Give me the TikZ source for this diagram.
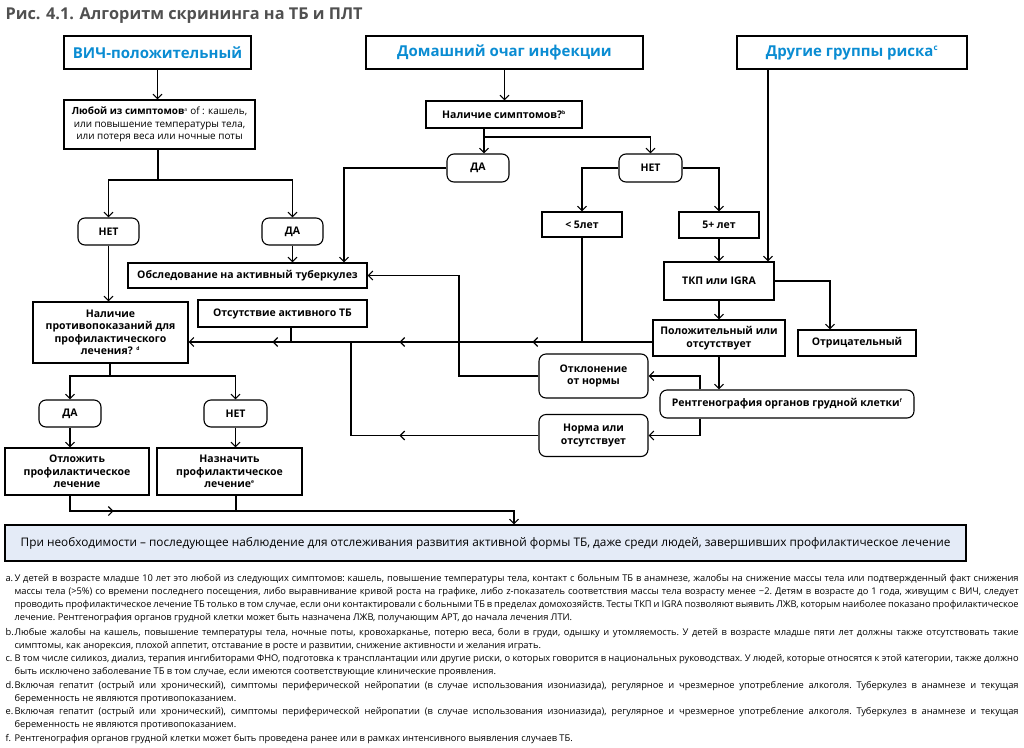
\documentclass[tikz,border=0pt]{standalone}
\usepackage{fontspec}
\setmainfont{Open Sans}
\usetikzlibrary{arrows.meta,decorations.markings}
\definecolor{hblue}{RGB}{10,140,210}
\definecolor{tgray}{RGB}{80,80,80}
\definecolor{bfill}{RGB}{228,235,247}
\newcommand\bxfont{\fontsize{10.5}{12.5}\selectfont\bfseries}
\newcommand\rgfont{\fontsize{9.9}{12.4}\selectfont}
\newcommand\hdfont{\fontsize{15}{18}\selectfont\bfseries}
\newcommand\fnfont{\fontsize{9.3}{13}\selectfont\frenchspacing}
\newcommand\sups[1]{\textsuperscript{\tiny #1}}
\begin{document}
\begin{tikzpicture}[x=1pt,y=-1pt,line width=1.1pt,
  box/.style={draw, line width=1.1pt, inner sep=1pt, align=center, font=\bxfont},
  rbox/.style={box, rounded corners=7pt},
  headbox/.style={draw, line width=1.3pt, inner sep=1pt, font=\hdfont, text=hblue},
  arr/.style={-{Straight Barb[length=4.5pt,width=9pt,line width=1.1pt]}},
  fn/.style={anchor=north west, inner sep=0pt, text width=1013pt, align=justify, font=\fnfont},
]
\useasboundingbox (0,0) rectangle (1024,747);

\node[anchor=base west, inner sep=0pt, text=tgray, font=\fontsize{16.3}{19}\selectfont\bfseries] (title) at (5,19) {Рис. 4.1. Алгоритм скрининга на ТБ и ПЛТ};

% header boxes
\node[headbox, minimum width=187pt, minimum height=33pt] (vich) at (157.5,52.5) {ВИЧ-положительный};
\node[headbox, minimum width=277pt, minimum height=33pt] (dom) at (504.5,52.5) {Домашний очаг инфекции};
\node[headbox, minimum width=230pt, minimum height=33pt] (drug) at (852,52.5) {Другие группы риска\textsuperscript{\footnotesize c}};

% boxes
\node[box, minimum width=191pt, minimum height=49pt, font=\rgfont] (lyub) at (159.5,124.5) {\textbf{Любой из симптомов}\sups{a} of : кашель,\\или повышение температуры тела,\\или потеря веса или ночные поты};
\node[box, minimum width=156pt, minimum height=27pt] (nal) at (504,114.5) {Наличие симптомов?\sups{b}};
\node[rbox, minimum width=62pt, minimum height=28pt] (damid) at (478,168) {ДА};
\node[rbox, minimum width=63pt, minimum height=28pt] (netmid) at (650.5,168) {НЕТ};
\node[box, minimum width=80pt, minimum height=25pt] (lt5) at (582,224.5) {< 5лет};
\node[box, minimum width=80pt, minimum height=26pt] (ge5) at (719,225) {5+ лет};
\node[rbox, minimum width=61pt, minimum height=27pt] (netl) at (108.5,231.5) {НЕТ};
\node[rbox, minimum width=61pt, minimum height=27pt] (dal) at (292.5,231.5) {ДА};
\node[box, minimum width=239pt, minimum height=25pt] (obsl) at (247.5,275.5) {Обследование на активный туберкулез};
\node[box, minimum width=169pt, minimum height=27pt] (ots) at (282.5,313.5) {Отсутствие активного ТБ};
\node[box, minimum width=155pt, minimum height=61pt] (nalp) at (110.5,332.5) {Наличие\\противопоказаний для\\профилактического\\лечения? \sups{d}};
\node[box, minimum width=110pt, minimum height=38pt] (tkp) at (719,281) {ТКП или IGRA};
\node[box, minimum width=132pt, minimum height=36pt] (pol) at (719,338) {Положительный или\\отсутствует};
\node[box, minimum width=118pt, minimum height=26pt] (otr) at (857,343) {Отрицательный};
\node[rbox, minimum width=109pt, minimum height=44pt] (otkl) at (593.5,376) {Отклонение\\от нормы};
\node[rbox, minimum width=254pt, minimum height=28pt] (rent) at (787,404) {Рентгенография органов грудной клетки\sups{f}};
\node[rbox, minimum width=109pt, minimum height=42pt] (norma) at (593.5,435.5) {Норма или\\отсутствует};
\node[rbox, minimum width=62pt, minimum height=27pt] (dalow) at (70,413.5) {ДА};
\node[rbox, minimum width=63pt, minimum height=27pt] (netlow) at (235.5,413.5) {НЕТ};
\node[box, minimum width=144pt, minimum height=47pt] (otl) at (77,471.5) {Отложить\\профилактическое\\лечение};
\node[box, minimum width=145pt, minimum height=47pt] (naz) at (229.5,471.5) {Назначить\\профилактическое\\лечение\sups{e}};
\node[draw, line width=1.1pt, fill=bfill, minimum width=961pt, minimum height=36pt, font=\fontsize{11.8}{14}\selectfont] (bot) at (485.5,543) {При необходимости – последующее наблюдение для отслеживания развития активной формы ТБ, даже среди людей, завершивших профилактическое лечение};

% coordinates
\coordinate (jL) at (158,180);
\coordinate (jM) at (484,137);
\coordinate (c344) at (344,0);
\coordinate (c768) at (768,0);
\coordinate (c830) at (830,0);
\coordinate (hl) at (0,342);
\coordinate (c291) at (291,0);
\coordinate (c351) at (351,0);
\coordinate (c459) at (459,0);
\coordinate (c700) at (700,0);
\coordinate (jB) at (110,376);
\coordinate (c70) at (70,0);
\coordinate (c236) at (236,0);
\coordinate (jE) at (514,511);

% connectors
\draw[arr] (vich.south) -- (vich.south |- lyub.north);
\draw (lyub.south -| jL) -- (jL);
\draw[arr] (jL) -| (netl.north);
\draw[arr] (jL) -| (dal.north);
\draw[arr] (dom.south) -- (dom.south |- nal.north);
\draw (jM |- nal.south) -- (jM);
\draw[arr] (jM) -- (jM |- damid.north);
\draw[arr] (jM) -| (netmid.north);
\draw[arr] (damid.west) -| (c344 |- obsl.north);
\draw[arr] (dal.south) -- (dal.south |- obsl.north);
\draw[arr] (netl.south) -- (netl.south |- nalp.north);
\draw[arr] (netmid.west) -| (lt5.north);
\draw[arr] (netmid.east) -| (ge5.north);
\draw[arr] (ge5.south) -- (ge5.south |- tkp.north);
\draw[arr] (c768 |- drug.south) -- (c768 |- tkp.north);
\draw[arr] (tkp.east) -| (c830 |- otr.north);
\draw[arr] (tkp.south) -- (pol.north);
\draw[arr, postaction={decorate}, decoration={markings,
  mark=at position 120pt with {\arrow{Straight Barb[length=4.5pt,width=9pt,line width=1.1pt]}},
  mark=at position 253pt with {\arrow{Straight Barb[length=4.5pt,width=9pt,line width=1.1pt]}},
  mark=at position 380pt with {\arrow{Straight Barb[length=4.5pt,width=9pt,line width=1.1pt]}}}]
  (pol.west |- hl) -- (nalp.east |- hl);
\draw (lt5.south) -- (lt5.south |- hl);
\draw (c291 |- ots.south) -- (c291 |- hl);
\draw[postaction={decorate}, decoration={markings,
  mark=at position 139pt with {\arrow{Straight Barb[length=4.5pt,width=9pt,line width=1.1pt]}}}]
  (norma.west) -- (c351 |- norma.west) -- (c351 |- hl);
\draw[arr] (otkl.west) -- (c459 |- otkl.west) -- (c459 |- obsl.east) -- (obsl.east);
\draw[arr] (pol.south) -- (pol.south |- rent.north);
\draw[arr] (c700 |- rent.north) |- (otkl.east);
\draw[arr] (c700 |- rent.south) |- (norma.east);
\draw (nalp.south -| jB) -- (jB);
\draw[arr] (jB) -| (dalow.north);
\draw[arr] (jB) -| (netlow.north);
\draw[arr] (dalow.south) -- (c70 |- otl.north);
\draw[arr] (netlow.south) -- (netlow.south |- naz.north);
\draw[arr, postaction={decorate}, decoration={markings,
  mark=at position 59pt with {\arrow{Straight Barb[length=4.5pt,width=9pt,line width=1.1pt]}}}]
  (c70 |- otl.south) |- (jE) -- (jE |- bot.north);
\draw (c236 |- naz.south) -- (c236 |- jE);

% footnotes
\node[fn] (fa) at (5,574) {\hangindent=9pt\hangafter=1\makebox[9pt][l]{a.}У детей в возрасте младше 10 лет это любой из следующих симптомов: кашель, повышение температуры тела, контакт с больным ТБ в анамнезе, жалобы на снижение массы тела или подтвержденный факт снижения\linebreak массы тела (>5\%) со времени последнего посещения, либо выравнивание кривой роста на графике, либо z-показатель соответствия массы тела возрасту менее −2. Детям в возрасте до 1 года, живущим с ВИЧ, следует\linebreak проводить профилактическое лечение ТБ только в том случае, если они контактировали с больными ТБ в пределах домохозяйств. Тесты ТКП и IGRA позволяют выявить ЛЖВ, которым наиболее показано профилактическое\linebreak лечение. Рентгенография органов грудной клетки может быть назначена ЛЖВ, получающим АРТ, до начала лечения ЛТИ.\par};
\node[fn] (fb) at (5,628) {\hangindent=9pt\hangafter=1\makebox[9pt][l]{b.}Любые жалобы на кашель, повышение температуры тела, ночные поты, кровохарканье, потерю веса, боли в груди, одышку и утомляемость. У детей в возрасте младше пяти лет должны также отсутствовать такие\linebreak симптомы, как анорексия, плохой аппетит, отставание в росте и развитии, снижение активности и желания играть.\par};
\node[fn] (fc) at (5,654) {\hangindent=9pt\hangafter=1\makebox[9pt][l]{c.}В том числе силикоз, диализ, терапия ингибиторами ФНО, подготовка к трансплантации или другие риски, о которых говорится в национальных руководствах. У людей, которые относятся к этой категории, также должно\linebreak быть исключено заболевание ТБ в том случае, если имеются соответствующие клинические проявления.\par};
\node[fn] (fd) at (5,681) {\hangindent=9pt\hangafter=1\makebox[9pt][l]{d.}Включая гепатит (острый или хронический), симптомы периферической нейропатии (в случае использования изониазида), регулярное и чрезмерное употребление алкоголя. Туберкулез в анамнезе и текущая\linebreak беременность не являются противопоказанием.\par};
\node[fn] (fe) at (5,707) {\hangindent=9pt\hangafter=1\makebox[9pt][l]{e.}Включая гепатит (острый или хронический), симптомы периферической нейропатии (в случае использования изониазида), регулярное и чрезмерное употребление алкоголя. Туберкулез в анамнезе и текущая\linebreak беременность не являются противопоказанием.\par};
\node[fn] (ff) at (5,734) {\hangindent=9pt\hangafter=1\makebox[9pt][l]{f.}Рентгенография органов грудной клетки может быть проведена ранее или в рамках интенсивного выявления случаев ТБ.\par};
\end{tikzpicture}
\end{document}
